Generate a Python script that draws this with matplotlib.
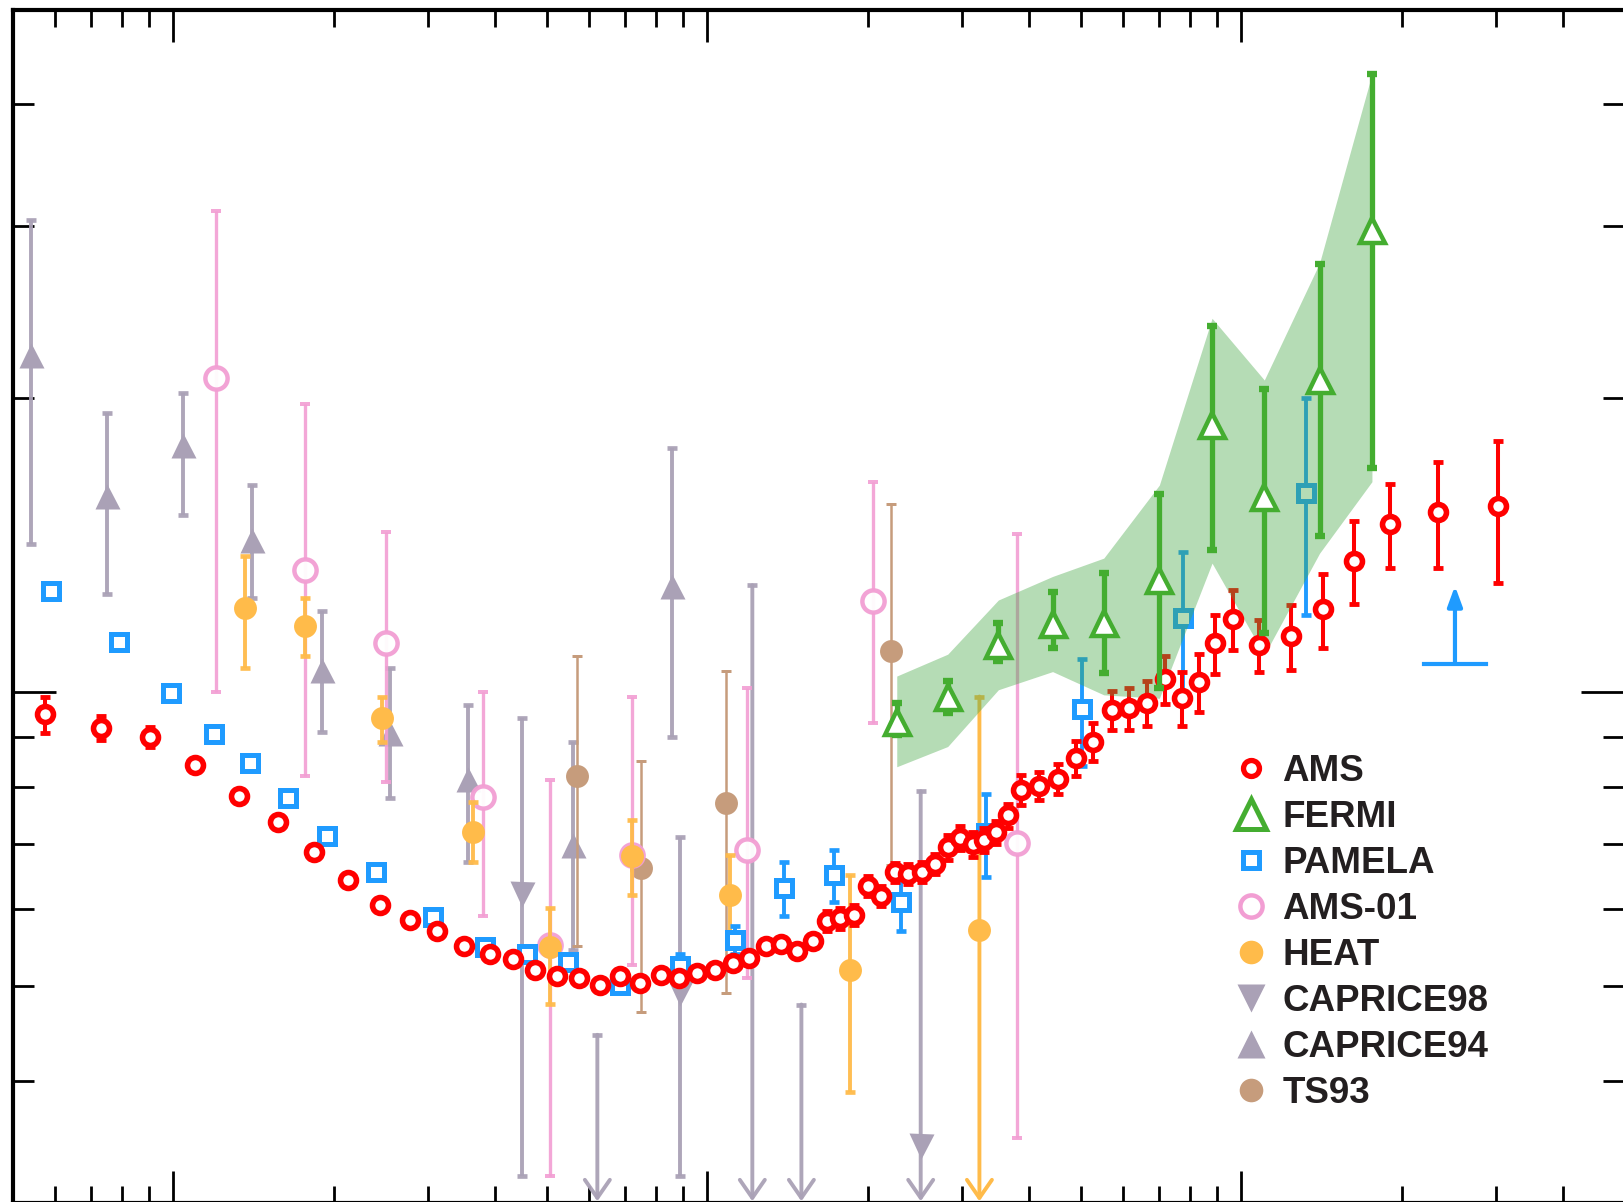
import matplotlib
matplotlib.use('Agg')
import matplotlib.pyplot as plt
from matplotlib.lines import Line2D
from matplotlib.ticker import FixedLocator, NullFormatter
import numpy as np

plt.rcParams['font.family'] = ['Liberation Sans', 'DejaVu Sans']

# ---- AMS (positron fraction vs energy, GeV) ----
ams_e = [0.574, 0.731, 0.905, 1.10, 1.33, 1.57, 1.83, 2.12, 2.44, 2.78,
         3.12, 3.50, 3.91, 4.33, 4.76, 5.24, 5.76, 6.30, 6.86, 7.48,
         8.18, 8.86, 9.55, 10.35, 11.16, 11.99, 12.88, 13.74, 14.70, 15.76,
         16.73, 17.72, 18.83, 20.02, 21.12, 22.46, 23.73, 25.20, 26.70, 28.19,
         29.73, 31.41, 32.98, 34.72, 36.52, 38.68, 41.85, 45.31, 49.02, 52.83,
         57.20, 61.70, 66.50, 71.95, 77.53, 83.33, 89.27, 96.35, 107.9, 123.9,
         142.1, 162.8, 189.8, 233.2, 302.9]
ams_f = [0.0949, 0.0919, 0.0901, 0.0842, 0.0784, 0.0736, 0.0686, 0.0643, 0.0605, 0.0584,
         0.0569, 0.0550, 0.0540, 0.0533, 0.0519, 0.0512, 0.0510, 0.0502, 0.0512, 0.0504,
         0.0513, 0.0510, 0.0516, 0.0519, 0.0528, 0.0535, 0.0550, 0.0553, 0.0543, 0.0557,
         0.0583, 0.0587, 0.0592, 0.0634, 0.0619, 0.0654, 0.0652, 0.0655, 0.0667, 0.0694,
         0.0710, 0.0699, 0.0706, 0.0719, 0.0748, 0.0794, 0.0802, 0.0816, 0.0856, 0.0890,
         0.0959, 0.0963, 0.0976, 0.1031, 0.0986, 0.1024, 0.1122, 0.1189, 0.1118, 0.1142,
         0.1216, 0.1364, 0.1487, 0.1531, 0.1551]
ams_err = [0.0040, 0.0026, 0.0021, 0.0010, 0.0009, 0.0009, 0.0008, 0.0008, 0.0007, 0.0007,
           0.0007, 0.0007, 0.0006, 0.0006, 0.0006, 0.0006, 0.0006, 0.0006, 0.0006, 0.0006,
           0.0006, 0.0006, 0.0006, 0.0006, 0.0006, 0.0006, 0.0007, 0.0007, 0.0007, 0.0007,
           0.0014, 0.0014, 0.0014, 0.0015, 0.0015, 0.0015, 0.0015, 0.0015, 0.0016, 0.0020,
           0.0020, 0.0020, 0.0020, 0.0020, 0.0021, 0.0028, 0.0026, 0.0029, 0.0035, 0.0040,
           0.0043, 0.0048, 0.0052, 0.0058, 0.0063, 0.0070, 0.0077, 0.0084, 0.0069, 0.0087,
           0.0106, 0.0132, 0.0147, 0.0190, 0.0257]

# ---- FERMI ----
fermi_e = [22.63, 28.19, 35.07, 44.31, 55.25, 70.22, 88.13, 110.4, 140.1, 175.6]
fermi_f = [0.0933, 0.0990, 0.1118, 0.1175, 0.1178, 0.1303, 0.1876, 0.1586, 0.2088, 0.2974]
fermi_lo = [0.0904, 0.0953, 0.1076, 0.1109, 0.1047, 0.1010, 0.1399, 0.1149, 0.1445, 0.1696]
fermi_hi = [0.0974, 0.1028, 0.1178, 0.1268, 0.1326, 0.1596, 0.2373, 0.2044, 0.2745, 0.4291]
band_lo = [0.0839, 0.0880, 0.1006, 0.1050, 0.0994, 0.0986, 0.1356, 0.1092, 0.1388, 0.1643]
band_hi = [0.1039, 0.1094, 0.1243, 0.1314, 0.1372, 0.1630, 0.2415, 0.2088, 0.2751, 0.4295]

# ---- PAMELA ----
pam_e = [0.590, 0.791, 0.990, 1.190, 1.390, 1.639, 1.943, 2.397, 3.068, 3.835,
         4.589, 5.492, 6.863, 8.890, 11.27, 13.94, 17.27, 23.01, 33.21, 50.24,
         77.67, 132.2]
pam_f = [0.1270, 0.1125, 0.0998, 0.0906, 0.0846, 0.0780, 0.0713, 0.0655, 0.0589, 0.0548,
         0.0540, 0.0530, 0.0501, 0.0524, 0.0558, 0.0630, 0.0650, 0.0610, 0.0717, 0.0961,
         0.1192, 0.1601]
pam_err = [0, 0, 0, 0, 0, 0, 0, 0, 0.0006, 0.0007,
           0.0007, 0.0007, 0.0007, 0.0015, 0.0019, 0.0040, 0.0040, 0.0040, 0.0070, 0.0120,
           0.0200, 0.0400]
pam_lim_e = [219.9, 251.2, 287.2]      # left, arrow, right
pam_lim_f = [0.1069, 0.1285]           # base, arrow tip

# ---- AMS-01 ----
a01_e = [1.202, 1.765, 2.502, 3.806, 5.076, 7.220, 11.85, 20.43, 37.97]
a01_f = [0.2099, 0.1334, 0.1122, 0.0782, 0.0551, 0.0681, 0.0690, 0.1241, 0.0701]
a01_lo = [0.1000, 0.0820, 0.0809, 0.0590, 0.0320, 0.0526, 0.0510, 0.0930, 0.0350]
a01_hi = [0.3109, 0.1971, 0.1460, 0.1000, 0.0813, 0.0990, 0.1011, 0.1640, 0.1451]

# ---- HEAT (last point: lower side open) ----
heat_e = [1.362, 1.765, 2.462, 3.646, 5.076, 7.220, 11.03, 18.50, 32.32]
heat_f = [0.1221, 0.1170, 0.0942, 0.0720, 0.0549, 0.0680, 0.0620, 0.0520, 0.0571]
heat_lo = [0.1060, 0.1090, 0.0890, 0.0671, 0.0480, 0.0620, 0.0562, 0.0390, np.nan]
heat_hi = [0.1379, 0.1250, 0.0990, 0.0773, 0.0601, 0.0740, 0.0681, 0.0650, 0.0990]

# ---- CAPRICE94 ----
c94_e = [0.541, 0.750, 1.041, 1.402, 1.901, 2.545, 3.567, 5.612, 8.599]
c94_f = [0.2214, 0.1590, 0.1793, 0.1431, 0.1054, 0.0908, 0.0816, 0.0698, 0.1284]
c94_lo = [0.1420, 0.1260, 0.1518, 0.1250, 0.0911, 0.0779, 0.0671, 0.0545, 0.0899]
c94_hi = [0.3048, 0.1930, 0.2027, 0.1630, 0.1211, 0.1060, 0.0970, 0.0890, 0.1779]

# ---- CAPRICE98 (nan = off scale / open downward) ----
c98_e = [4.504, 6.223, 8.905, 12.14, 15.00, 25.09]
c98_f = [0.0622, np.nan, 0.0492, np.nan, np.nan, 0.0343]
c98_lo = [0.0320, np.nan, 0.0320, np.nan, np.nan, np.nan]
c98_hi = [0.0941, 0.0446, 0.0711, 0.1287, 0.0479, 0.0792]

# ---- TS93 ----
ts_e = [5.709, 7.511, 10.84, 22.08]
ts_f = [0.0821, 0.0661, 0.0770, 0.1102]
ts_lo = [0.0550, 0.0471, 0.0492, 0.0666]
ts_hi = [0.1090, 0.0851, 0.1052, 0.1557]

AMS_C = '#ff0000'
FERMI_C = '#44ad30'
BAND_C = '#46a846'
PAM_C = '#1f9bff'
A01_C = '#f29ed3'
HEAT_C = '#ffbb4a'
CAP_C = '#aaa1b6'
TS_C = '#c69c7c'

YMIN, YMAX = 0.03, 0.5

fig = plt.figure(figsize=(16.24, 12.02), dpi=100)
ax = fig.add_axes([0.00776, -0.00083, 0.99206, 0.99285])
ax.set_xscale('log')
ax.set_yscale('log')
ax.set_xlim(0.5, 520)
ax.set_ylim(YMIN, YMAX)


def bars(x, y, lo, hi, color, lw, cap, z, alpha=1.0):
    x = np.asarray(x, float)
    y = np.asarray(y, float)
    lo = np.asarray(lo, float)
    hi = np.asarray(hi, float)
    ax.errorbar(x, y, yerr=[y - lo, hi - y], fmt='none', ecolor=color,
                elinewidth=lw, capsize=cap, capthick=lw * 1.2, zorder=z, alpha=alpha)


def open_down(x, top, color, lw, z, alpha=1.0):
    ax.annotate('', xy=(x, YMIN * 1.004), xytext=(x, top),
                arrowprops=dict(arrowstyle='->,head_length=0.65,head_width=0.45',
                                color=color, lw=lw, shrinkA=0, shrinkB=0,
                                mutation_scale=20, alpha=alpha),
                zorder=z)
    ax.plot([x], [top], ls='none', marker='_', ms=7.5, mew=lw * 1.2,
            color=color, zorder=z, alpha=alpha)


# CAPRICE94 / 98
bars(c94_e, c94_f, c94_lo, c94_hi, CAP_C, 2.8, 3.6, 2.0, 0.95)
ax.plot(c94_e, c94_f, ls='none', marker='^', ms=18, color=CAP_C, mec='none', zorder=2.1)
for e, f, lo, hi in zip(c98_e, c98_f, c98_lo, c98_hi):
    if np.isnan(lo):
        open_down(e, hi, CAP_C, 2.8, 2.0, 0.95)
    else:
        bars([e], [f], [lo], [hi], CAP_C, 2.8, 3.6, 2.0, 0.95)
ax.plot(c98_e, c98_f, ls='none', marker='v', ms=18, color=CAP_C, mec='none', zorder=2.1)

# TS93
bars(ts_e, ts_f, ts_lo, ts_hi, TS_C, 1.8, 3.6, 2.2)
ax.plot(ts_e, ts_f, ls='none', marker='o', ms=16.5, color=TS_C, mec='none', zorder=2.3)

# AMS-01
bars(a01_e, a01_f, a01_lo, a01_hi, A01_C, 2.4, 3.8, 2.4, 0.9)
ax.plot(a01_e, a01_f, ls='none', marker='o', ms=16, mfc='white', mec=A01_C, mew=3.2,
        zorder=2.5, alpha=0.95)

# HEAT
heat_lo_a = np.array(heat_lo)
ok = ~np.isnan(heat_lo_a)
bars(np.array(heat_e)[ok], np.array(heat_f)[ok], heat_lo_a[ok], np.array(heat_hi)[ok],
     HEAT_C, 2.8, 3.6, 2.6, 0.95)
for e, lo, hi in zip(heat_e, heat_lo, heat_hi):
    if np.isnan(lo):
        open_down(e, hi, HEAT_C, 2.8, 2.6)
ax.plot(heat_e, heat_f, ls='none', marker='o', ms=16.5, color=HEAT_C, mec='none', zorder=2.7)

# PAMELA
pe = np.array(pam_err)
bars(pam_e, pam_f, np.array(pam_f) - pe, np.array(pam_f) + pe, PAM_C, 2.8, 3.6, 2.8)
ax.plot(pam_e, pam_f, ls='none', marker='s', ms=11.5, mfc='white', mec=PAM_C, mew=3.6, zorder=2.9)
ax.plot([pam_lim_e[0], pam_lim_e[2]], [pam_lim_f[0], pam_lim_f[0]], color=PAM_C, lw=3, zorder=2.9)
ax.annotate('', xy=(pam_lim_e[1], pam_lim_f[1]), xytext=(pam_lim_e[1], pam_lim_f[0]),
            arrowprops=dict(arrowstyle='-|>,head_length=0.6,head_width=0.22', color=PAM_C,
                            lw=3, shrinkA=0, shrinkB=0, mutation_scale=20), zorder=2.9)

# AMS error bars below band, markers above
ae = np.array(ams_err)
bars(ams_e, ams_f, np.array(ams_f) - ae, np.array(ams_f) + ae, AMS_C, 2.9, 3.6, 3.0)

# FERMI band
ax.fill_between(fermi_e, band_lo, band_hi, color=BAND_C, alpha=0.4, lw=0, zorder=4)

ax.plot(ams_e, ams_f, ls='none', marker='o', ms=11.5, mfc='white', mec=AMS_C, mew=4.0, zorder=5)

# FERMI
bars(fermi_e, fermi_f, fermi_lo, fermi_hi, FERMI_C, 3.8, 3.8, 6)
ax.plot(fermi_e, fermi_f, ls='none', marker='^', ms=18, mfc='white', mec=FERMI_C, mew=3.2, zorder=6.1)

# frame & ticks
for s in ['left', 'top', 'bottom']:
    ax.spines[s].set_linewidth(3)
ax.spines['right'].set_visible(False)
ax.xaxis.set_major_locator(FixedLocator([1, 10, 100]))
ax.xaxis.set_minor_locator(FixedLocator([0.6, 0.7, 0.8, 0.9, 2, 3, 4, 5, 6, 7, 8, 9,
                                         20, 30, 40, 50, 60, 70, 80, 90, 200, 300, 400]))
ax.yaxis.set_major_locator(FixedLocator([0.1]))
ax.yaxis.set_minor_locator(FixedLocator([0.04, 0.05, 0.06, 0.07, 0.08, 0.09, 0.2, 0.3, 0.4]))
for a in (ax.xaxis, ax.yaxis):
    a.set_major_formatter(NullFormatter())
    a.set_minor_formatter(NullFormatter())
ax.tick_params(which='both', direction='in', top=True, right=True, width=2, color='black')
ax.tick_params(axis='x', which='major', length=23)
ax.tick_params(axis='x', which='minor', length=12)
ax.tick_params(axis='y', which='major', length=31)
ax.tick_params(axis='y', which='minor', length=15)

# legend
handles = [
    Line2D([], [], ls='none', marker='o', ms=11.5, mfc='white', mec=AMS_C, mew=3.8),
    Line2D([], [], ls='none', marker='^', ms=21, mfc='white', mec=FERMI_C, mew=3.6),
    Line2D([], [], ls='none', marker='s', ms=12, mfc='white', mec=PAM_C, mew=3.6),
    Line2D([], [], ls='none', marker='o', ms=16, mfc='white', mec=A01_C, mew=3.2),
    Line2D([], [], ls='none', marker='o', ms=17, color=HEAT_C, mec='none'),
    Line2D([], [], ls='none', marker='v', ms=20, color=CAP_C, mec='none'),
    Line2D([], [], ls='none', marker='^', ms=20, color=CAP_C, mec='none'),
    Line2D([], [], ls='none', marker='o', ms=17, color=TS_C, mec='none'),
]
labels = ['AMS', 'FERMI', 'PAMELA', 'AMS-01', 'HEAT', 'CAPRICE98', 'CAPRICE94', 'TS93']
leg = ax.legend(handles, labels, loc='upper left', bbox_to_anchor=(0.759, 0.373),
                bbox_transform=fig.transFigure, frameon=False, numpoints=1,
                prop={'weight': 'bold', 'size': 26.5}, handlelength=1.0,
                handletextpad=0.35, labelspacing=0.3, borderpad=0, borderaxespad=0)
for t in leg.get_texts():
    t.set_color('#231f20')
leg.set_zorder(10)

fig.savefig('out.png', dpi=100)
